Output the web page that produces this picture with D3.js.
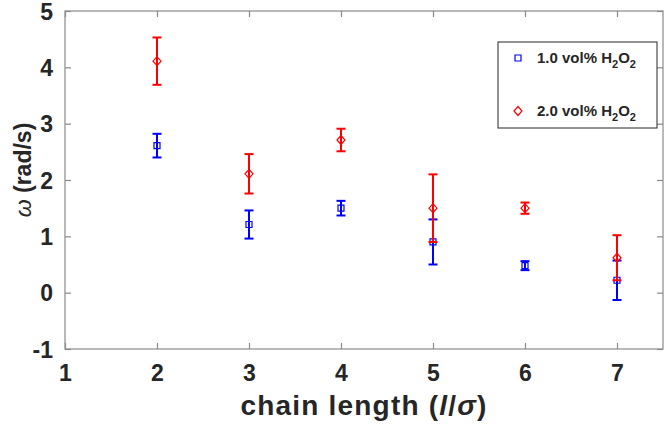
<!DOCTYPE html>
<html>
<head>
<meta charset="utf-8">
<script src="https://cdn.jsdelivr.net/npm/d3@7"></script>
<style>
  body { margin: 0; background: #fff; }
  svg { display: block; font-family: "Liberation Sans", Arial, sans-serif; }
</style>
</head>
<body>
<svg id="chart" width="666" height="429"></svg>
<script>
// chain length values
var chainLength = [2, 3, 4, 5, 6, 7];
// 1.0 vol% H2O2
var omegaLow = [2.61, 1.21, 1.50, 0.90, 0.48, 0.22];
var errLow = [0.21, 0.25, 0.13, 0.40, 0.08, 0.35];
// 2.0 vol% H2O2
var omegaHigh = [4.11, 2.11, 2.71, 1.50, 1.50, 0.62];
var errHigh = [0.42, 0.35, 0.20, 0.60, 0.10, 0.40];

var xTicks = [1, 2, 3, 4, 5, 6, 7];
var yTicks = [-1, 0, 1, 2, 3, 4, 5];

var margin = { top: 11, left: 65, bottom: 80, right: 3 };
var svg = d3.select('#chart');
var W = 666, H = 429;
var w = W - margin.left - margin.right;
var h = H - margin.top - margin.bottom;

var x = d3.scaleLinear().domain([1, 7.5]).range([0, w]);
var y = d3.scaleLinear().domain([-1, 5]).range([h, 0]);

var g = svg.append('g').attr('transform', 'translate(' + [margin.left, margin.top] + ')');

var axisColor = '#8a8a8a';
var textColor = '#262626';
var plainFmt = function(d) { return String(d); };

// box
g.append('rect').attr('width', w).attr('height', h)
  .attr('fill', 'none').attr('stroke', axisColor).attr('stroke-width', 1.2);

// axes with inward ticks
function styleAxis(sel) {
  sel.select('.domain').remove();
  sel.selectAll('line').attr('stroke', axisColor).attr('stroke-width', 1.2);
  sel.selectAll('text').attr('fill', textColor).style('font-size', '23px').style('font-weight', 'bold');
}
g.append('g').attr('transform', 'translate(0,' + h + ')')
  .call(d3.axisBottom(x).tickValues(xTicks).tickFormat(plainFmt).tickSizeInner(-6).tickPadding(16))
  .call(styleAxis)
  .selectAll('text').attr('dy', '0.71em');
g.append('g')
  .call(d3.axisTop(x).tickValues(xTicks).tickFormat('').tickSizeInner(-6))
  .call(styleAxis);
g.append('g')
  .call(d3.axisLeft(y).tickValues(yTicks).tickFormat(plainFmt).tickSizeInner(-6).tickPadding(12))
  .call(styleAxis)
  .selectAll('text').attr('dy', '0.36em');
g.append('g').attr('transform', 'translate(' + w + ',0)')
  .call(d3.axisRight(y).tickValues(yTicks).tickFormat('').tickSizeInner(-6))
  .call(styleAxis);

// axis titles
var xt = svg.append('text').attr('x', margin.left + w / 2).attr('y', 415)
  .attr('text-anchor', 'middle').attr('fill', textColor)
  .style('font-size', '28px').style('font-weight', 'bold').style('letter-spacing', '1.2px');
xt.append('tspan').text('chain length (');
xt.append('tspan').style('font-style', 'italic').text('l');
xt.append('tspan').text('/');
xt.append('tspan').style('font-style', 'italic').text('σ');
xt.append('tspan').text(')');

var yt = svg.append('text').attr('transform', 'translate(31,170) rotate(-90)')
  .attr('text-anchor', 'middle').attr('fill', textColor)
  .style('font-size', '23px').style('font-weight', 'bold');
yt.append('tspan').style('font-style', 'italic').style('font-weight', 'normal').text('ω');
yt.append('tspan').text(' (rad/s)');

// series
var series = [
  { name: '1.0', values: omegaLow, errs: errLow, color: '#0000ff', shape: 'square' },
  { name: '2.0', values: omegaHigh, errs: errHigh, color: '#ff0000', shape: 'diamond' }
];

function markerPath(shape, cx, cy) {
  if (shape === 'square') {
    return 'M' + (cx - 3) + ',' + (cy - 3) + 'h6v6h-6Z';
  }
  return 'M' + cx + ',' + (cy - 4.5) + 'L' + (cx + 4) + ',' + cy + 'L' + cx + ',' + (cy + 4.5) + 'L' + (cx - 4) + ',' + cy + 'Z';
}

series.forEach(function(s) {
  var sg = g.append('g');
  var pts = chainLength.map(function(c, i) { return { c: c, v: s.values[i], e: s.errs[i] }; });
  var eb = sg.selectAll('.eb').data(pts).enter().append('g')
    .attr('stroke', s.color).attr('stroke-width', 2).attr('fill', 'none');
  eb.append('line')
    .attr('x1', function(d) { return x(d.c); }).attr('x2', function(d) { return x(d.c); })
    .attr('y1', function(d) { return y(d.v + d.e); }).attr('y2', function(d) { return y(d.v - d.e); });
  eb.append('line')
    .attr('x1', function(d) { return x(d.c) - 4.5; }).attr('x2', function(d) { return x(d.c) + 4.5; })
    .attr('y1', function(d) { return y(d.v + d.e); }).attr('y2', function(d) { return y(d.v + d.e); });
  eb.append('line')
    .attr('x1', function(d) { return x(d.c) - 4.5; }).attr('x2', function(d) { return x(d.c) + 4.5; })
    .attr('y1', function(d) { return y(d.v - d.e); }).attr('y2', function(d) { return y(d.v - d.e); });
  sg.selectAll('.mk').data(pts).enter().append('path')
    .attr('d', function(d) { return markerPath(s.shape, x(d.c), y(d.v)); })
    .attr('fill', 'none').attr('stroke', s.color).attr('stroke-width', 1.2);
});

// legend
var lg = svg.append('g').attr('transform', 'translate(498,42)');
lg.append('rect').attr('width', 159).attr('height', 86)
  .attr('fill', '#fff').attr('stroke', '#262626').attr('stroke-width', 1);
series.forEach(function(s, i) {
  var ly = 16 + i * 53;
  lg.append('path').attr('d', markerPath(s.shape, 20, ly))
    .attr('fill', 'none').attr('stroke', s.color).attr('stroke-width', 1.2);
  var t = lg.append('text').attr('x', 39).attr('y', ly + 5).attr('fill', textColor)
    .style('font-size', '15px').style('font-weight', 'bold');
  t.append('tspan').text(s.name + ' vol% H');
  t.append('tspan').attr('dy', 5).style('font-size', '11px').text('2');
  t.append('tspan').attr('dy', -5).text('O');
  t.append('tspan').attr('dy', 5).style('font-size', '11px').text('2');
});
</script>
</body>
</html>
